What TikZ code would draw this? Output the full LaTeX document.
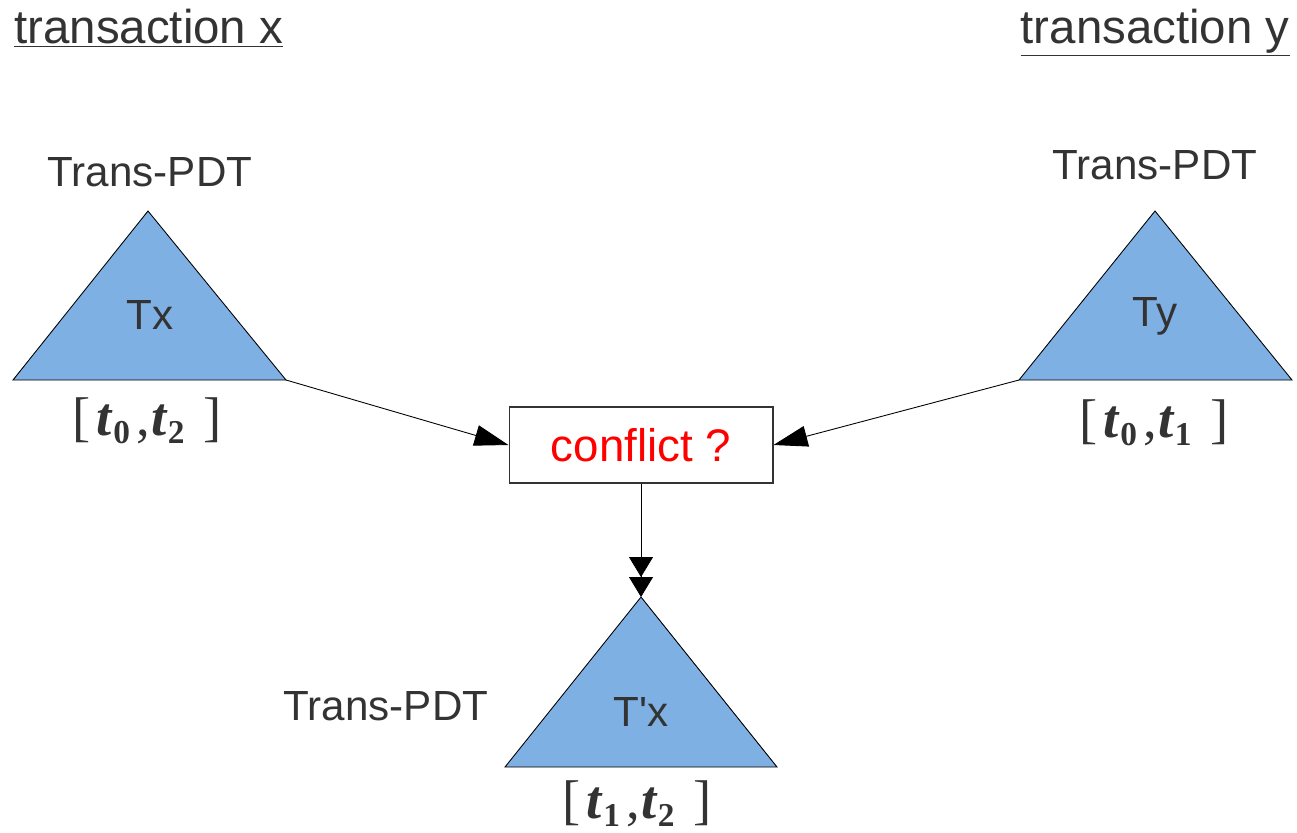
\documentclass[tikz,border=0pt]{standalone}
\usepackage{fontspec}
\setmainfont{Liberation Sans}
\newfontfamily\timesfont{Liberation Serif}
\usetikzlibrary{arrows.meta, positioning}
\definecolor{treeblue}{RGB}{126,176,227}
\definecolor{labelgray}{RGB}{51,51,51}
\newcommand{\subnum}[1]{\raisebox{-0.16em}{\fontsize{19pt}{20pt}\selectfont\textbf{#1}}}
\newcommand{\ival}[2]{{\timesfont\fontsize{31pt}{34pt}\selectfont [\hspace{0.12em}\textbf{\textit{t}}\subnum{#1}\hspace{0.12em},\hspace{0.02em}\textbf{\textit{t}}\subnum{#2}\hspace{0.35em}]}}

\begin{document}
\begin{tikzpicture}[
    x=0.02cm, y=-0.02cm,
    tree/.style={draw=black, fill=treeblue, line width=0.5pt},
    treename/.style={text=labelgray, font=\fontsize{24pt}{28pt}\selectfont, inner sep=0pt},
    title/.style={text=labelgray, font=\fontsize{27pt}{30pt}\selectfont, inner sep=0pt},
    interval/.style={text=labelgray, inner sep=0pt},
    box/.style={rectangle, draw=black!80, line width=0.6pt, minimum width=5.28cm, minimum height=1.52cm, text=red, font=\fontsize{26pt}{30pt}\selectfont},
    arrow/.style={-{Triangle[length=0.68cm,width=0.42cm]}, line width=0.5pt},
    dblarrow/.style={-{Triangle[length=0.4cm,width=0.48cm]Triangle[length=0.4cm,width=0.48cm]}, line width=0.5pt}
]
    \useasboundingbox (0,0) rectangle (1297,832);

    % titles
    \node[title, anchor=base west] (titlex) at (14,43) {\underline{transaction x}};
    \node[title, anchor=base east] (titley) at (1290,43) {\underline{transaction y}};

    % trees
    \coordinate (txa) at (148,211);
    \coordinate (txl) at (13,380);
    \coordinate (txr) at (286,380);
    \draw[tree] (txa) -- (txl) -- (txr) -- cycle;

    \coordinate (tya) at (1155,211);
    \coordinate (tyl) at (1019,380);
    \coordinate (tyr) at (1292,380);
    \draw[tree] (tya) -- (tyl) -- (tyr) -- cycle;

    \coordinate (tpa) at (641,597);
    \coordinate (tpl) at (505,767);
    \coordinate (tpr) at (777,767);
    \draw[tree] (tpa) -- (tpl) -- (tpr) -- cycle;

    \node[treename, anchor=base] (tx) at (150,329) {Tx};
    \node[treename, anchor=base] (ty) at (1155,326) {Ty};
    \node[treename, anchor=base] (tpx) at (641,726) {T\textquotesingle x};

    \node[treename] (pdtx) at (150,172) {Trans-PDT};
    \node[treename] (pdty) at (1155,165) {Trans-PDT};
    \node[treename] (pdtp) at (386,706) {Trans-PDT};

    \node[interval, anchor=base] (rx) at (147,435) {\ival{0}{2}};
    \node[interval, anchor=base] (ry) at (1154,437) {\ival{0}{1}};
    \node[interval, anchor=base] (rp) at (637,818) {\ival{1}{2}};

    % conflict check
    \node[box] (conflict) at (641,445) {conflict ?};

    \draw[arrow] (txr) -- (conflict.west);
    \draw[arrow] (tyl) -- (conflict.east);
    \draw[dblarrow] (conflict.south) -- (tpa);
\end{tikzpicture}
\end{document}
